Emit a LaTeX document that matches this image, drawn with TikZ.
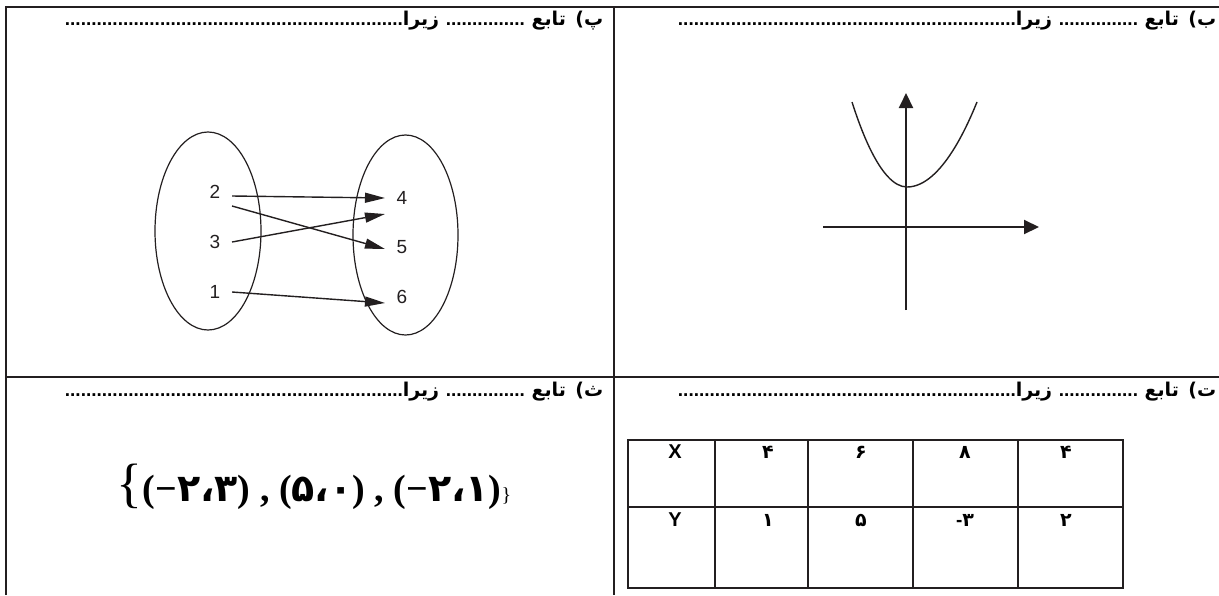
\documentclass[tikz,border=0pt]{standalone}
\usepackage{fontspec}
\usetikzlibrary{arrows.meta}
\TeXXeTstate=1
\newfontfamily\farsifont[Script=Arabic]{DejaVu Sans}
\newfontfamily\latinfont{Liberation Sans}
\newfontfamily\serifsym{Liberation Serif}
\definecolor{inkgray}{RGB}{35,31,32}
% dotted leaders of the headers
\newcommand\shortdots{{\latinfont\bfseries ...............}}
\newcommand\longdots{{\latinfont\bfseries ................................................................}}
% one Persian digit, kept as its own run
\newcommand\fd[1]{{\farsifont\bfseries #1}}

\tikzset{every picture/.style={line width=0.75pt}}
\tikzset{
  frameline/.style={line width=1.25pt, color=inkgray},
  gridline/.style={line width=1pt, color=inkgray},
  hdr/.style={anchor=base east, inner sep=0pt, font=\farsifont\bfseries\fontsize{9.5}{11}\selectfont},
  num/.style={inner sep=5.5pt, font=\latinfont\fontsize{9.5}{11}\selectfont, text=inkgray},
  mapto/.style={line width=0.7pt, color=inkgray, -{Triangle[length=10pt,width=5pt]}},
  axis/.style={line width=1pt, color=inkgray, -{Triangle[length=7.5pt,width=7pt]}},
  cellval/.style={inner sep=0pt, font=\farsifont\bfseries\fontsize{9.5}{12}\selectfont},
  rowhead/.style={inner sep=0pt, font=\latinfont\bfseries\fontsize{10}{12}\selectfont},
}

\begin{document}
\begin{tikzpicture}[x=0.5pt,y=0.5pt,yscale=-1,xscale=1]
\useasboundingbox (0,0) rectangle (1219,595);

%Frame
\draw [frameline] (6,595) -- (6,7) -- (1219,7) ;
\draw [frameline] (614,7) -- (614,595) ;
\draw [frameline] (6,377) -- (1219,377) ;

% Text Node
\node [hdr] (hdrB) at (1217,25) {\beginR ب)\enspace تابع \shortdots\ زیرا\longdots\endR};
% Text Node
\node [hdr] (hdrP) at (604,25) {\beginR پ)\enspace تابع \shortdots\ زیرا\longdots\endR};
% Text Node
\node [hdr] (hdrT) at (1217,396) {\beginR ت)\enspace تابع \shortdots\ زیرا\longdots\endR};
% Text Node
\node [hdr] (hdrS) at (604,396) {\beginR ث)\enspace تابع \shortdots\ زیرا\longdots\endR};

%Shape: Ellipse
\draw [color=inkgray, line width=0.6pt] (208,231) ellipse [x radius=53, y radius=99] ;
%Shape: Ellipse
\draw [color=inkgray, line width=0.6pt] (405.5,235) ellipse [x radius=52.5, y radius=100] ;

% Text Node
\node [num] (a2) at (215,192) {2};
\node [num] (a3) at (215,242) {3};
\node [num] (a1) at (215,292) {1};
\node [num] (b4) at (402,198) {4};
\node [num] (b5) at (402,247) {5};
\node [num] (b6) at (402,297) {6};

%Straight Lines
\draw [mapto] ([yshift=2pt]a2.east) -- (b4.west) ;
\draw [mapto] ([yshift=7pt]a2.east) -- ([yshift=1pt]b5.west) ;
\draw [mapto] (a3.east) -- ([yshift=8pt]b4.west) ;
\draw [mapto] (a1.east) -- ([yshift=3pt]b6.west) ;

%Axes
\coordinate (xl) at (823,227) ;
\coordinate (xr) at (1039,227) ;
\coordinate (yb) at (906,310) ;
\coordinate (yt) at (906,93) ;
\draw [axis] (xl) -- (xr) ;
\draw [axis] (yb) -- (yt) ;
%Curve Lines
\draw [color=inkgray, line width=0.7pt] (852,102) parabola bend (907,187) (977,102) ;

%Table
\draw [gridline] (628,440) rectangle (1123,588) ;
\draw [gridline] (628,507) -- (1123,507) ;
\draw [gridline] (715,440) -- (715,588) ;
\draw [gridline] (808,440) -- (808,588) ;
\draw [gridline] (913,440) -- (913,588) ;
\draw [gridline] (1018,440) -- (1018,588) ;

% Text Node
\node [rowhead] (cX) at (675,452) {X};
\node [cellval] (cX1) at (768,452) {۴};
\node [cellval] (cX2) at (861,452) {۶};
\node [cellval] (cX3) at (965,452) {۸};
\node [cellval] (cX4) at (1066,452) {۴};
\node [rowhead] (cY) at (675,520) {Y};
\node [cellval] (cY1) at (768,520) {۱};
\node [cellval] (cY2) at (861,520) {۵};
\node [cellval] (cY3) at (965,520) {{\latinfont\bfseries -}\fd{۳}};
\node [cellval] (cY4) at (1066,520) {۲};

% Text Node
\node [inner sep=0pt, font=\fontsize{19}{22}\selectfont] (pairSet) at (314,487) {{\serifsym\fontsize{27}{30}\selectfont\{}{\serifsym\bfseries(−}\fd{۲}\fd{،}\fd{۳}{\serifsym\bfseries) , (}\fd{۵}\fd{،}\fd{۰}{\serifsym\bfseries) , (−}\fd{۲}\fd{،}\fd{۱}{\serifsym\bfseries)}{\serifsym\fontsize{10}{11}\selectfont\}}};

\end{tikzpicture}
\end{document}
